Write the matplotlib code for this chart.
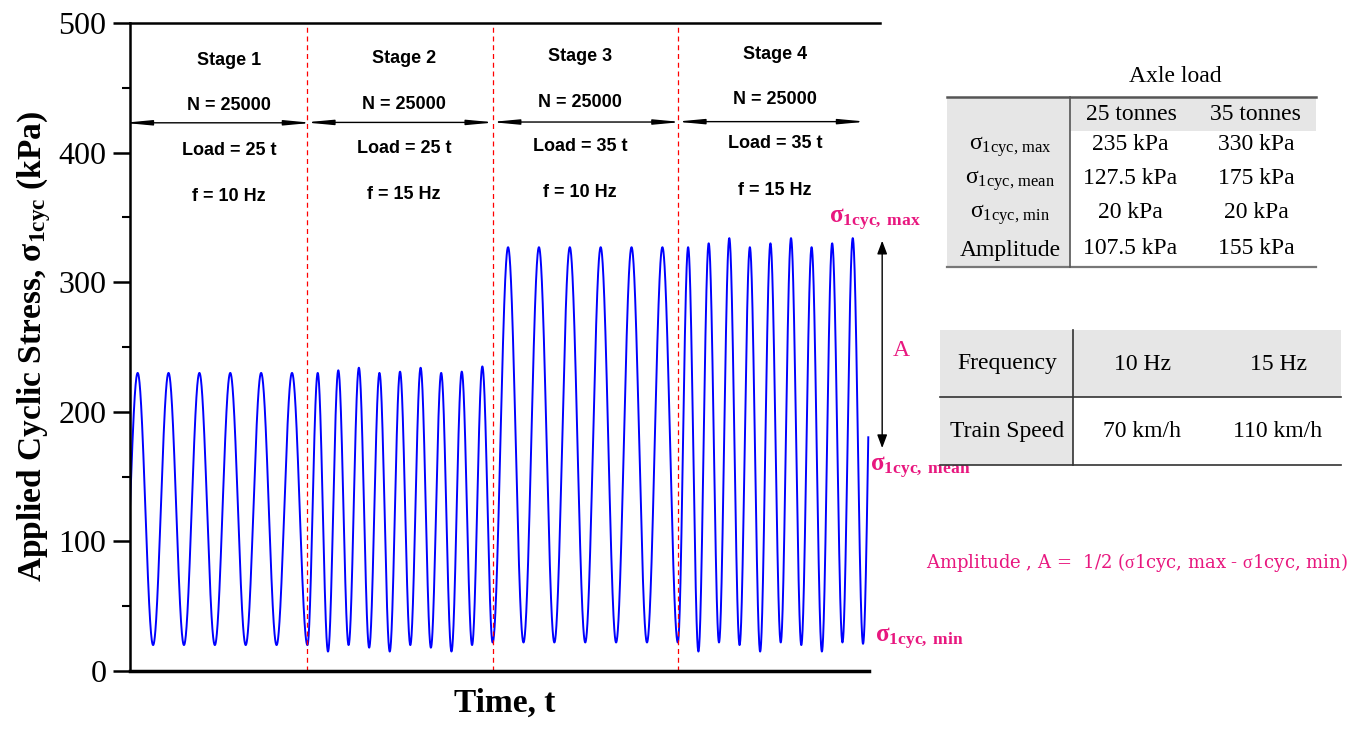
import numpy as np
import matplotlib
matplotlib.use("Agg")
import matplotlib.pyplot as plt
from matplotlib.patches import Rectangle
from matplotlib.lines import Line2D

plt.rcParams["font.family"] = ["Liberation Serif", "DejaVu Serif"]
plt.rcParams["mathtext.fontset"] = "custom"
plt.rcParams["mathtext.rm"] = "Liberation Serif"
plt.rcParams["mathtext.it"] = "Liberation Serif:italic"
plt.rcParams["mathtext.bf"] = "Liberation Serif:bold"

# ---- data (time in ms, stress in kPa) ----
stage_names = ["Stage 1", "Stage 2", "Stage 3", "Stage 4"]
stage_cycles = ["N = 25000", "N = 25000", "N = 25000", "N = 25000"]
stage_loads = ["Load = 25 t", "Load = 25 t", "Load = 35 t", "Load = 35 t"]
stage_freqs = ["f = 10 Hz", "f = 15 Hz", "f = 10 Hz", "f = 15 Hz"]
stage_hz = [10, 15, 10, 15]
stage_start = [-25, 575, 1175, 1775]   # first trough of each stage
stage_bounds = [575, 1175, 1775]
peaks_1 = [230, 230, 230, 230, 230, 230]
troughs_1 = [20, 20, 20, 20, 20, 20]
peaks_2 = [230, 232, 234, 230, 231, 234, 230, 231, 235]
troughs_2 = [15, 20, 18, 15, 20, 18, 15, 20, 22]
peaks_3 = [327, 327, 327, 327, 327, 327]
troughs_3 = [22, 22, 22, 22, 22, 22]
peaks_4 = [327, 330, 334, 327, 330, 334, 327, 330, 334]
troughs_4 = [15, 22, 20, 15, 22, 20, 15, 22, 21]
t_end = 2392

tbl1_cols = ["25 tonnes", "35 tonnes"]
tbl1_rows = [r"$\mathrm{\sigma}_{\mathrm{1cyc,\,max}}$", r"$\mathrm{\sigma}_{\mathrm{1cyc,\,mean}}$",
             r"$\mathrm{\sigma}_{\mathrm{1cyc,\,min}}$", "Amplitude"]
tbl1_25 = ["235 kPa", "127.5 kPa", "20 kPa", "107.5 kPa"]
tbl1_35 = ["330 kPa", "175 kPa", "20 kPa", "155 kPa"]
tbl2_rows = ["Frequency", "Train Speed"]
tbl2_a = ["10 Hz", "70 km/h"]
tbl2_b = ["15 Hz", "110 km/h"]

PINK = "#e8177f"

# ---- build waveform from extrema ----
knots_t, knots_v = [stage_start[0]], [troughs_1[0]]
for t0, hz, pk, tr in zip(stage_start, stage_hz,
                          [peaks_1, peaks_2, peaks_3, peaks_4],
                          [troughs_1, troughs_2, troughs_3, troughs_4]):
    T = 1000.0 / hz
    for k, (p, q) in enumerate(zip(pk, tr)):
        knots_t += [t0 + (k + 0.5) * T, t0 + (k + 1) * T]
        knots_v += [p, q]
knots_t.append(knots_t[-1] + 1000.0 / 15 / 2)
knots_v.append(330)
knots_t, knots_v = np.array(knots_t), np.array(knots_v)

t = np.linspace(0, t_end, 6000)
idx = np.clip(np.searchsorted(knots_t, t) - 1, 0, len(knots_t) - 2)
u = (t - knots_t[idx]) / (knots_t[idx + 1] - knots_t[idx])
y = knots_v[idx] + (knots_v[idx + 1] - knots_v[idx]) * (1 - np.cos(np.pi * u)) / 2

# ---- figure ----
fig = plt.figure(figsize=(13.65, 7.33), dpi=100)
ax = fig.add_axes([0.0952, 0.0846, 0.5495, 0.884])
ax.plot(t, y, color="#0000ff", lw=1.4)
for b in stage_bounds:
    ax.axvline(b, color="red", ls=(0, (4, 3)), lw=0.9)

ax.set_xlim(0, 2430)
ax.set_ylim(0, 500)
ax.set_yticks(np.arange(0, 501, 100))
ax.set_yticks(np.arange(50, 500, 100), minor=True)
ax.set_xticks([])
ax.tick_params(axis="y", which="major", length=12, width=1.8, labelsize=23, pad=5)
ax.tick_params(axis="y", which="minor", length=6, width=1.5)
ax.spines["right"].set_visible(False)
for s in ["left", "top"]:
    ax.spines[s].set_linewidth(1.8)
ax.spines["bottom"].set_linewidth(2.5)
ax.spines["bottom"].set_bounds(0, 2395)
ax.set_ylabel(r"Applied Cyclic Stress, $\mathbf{\sigma_{1cyc}}$ (kPa)",
              fontsize=24, fontweight="bold", labelpad=4)
ax.set_xlabel("Time, t", fontsize=24, fontweight="bold", labelpad=12)

# stage annotations
text_x = [321, 888, 1458, 2090]
text_dy = [0, 1.5, 3, 5]
arrow_span = [(-20, 590), (568, 1182), (1170, 1787), (1770, 2385)]
for i in range(4):
    kw = dict(ha="center", va="center", fontsize=13, fontweight="bold",
              family=["Liberation Sans", "DejaVu Sans"])
    ax.text(text_x[i], 471 + text_dy[i], stage_names[i], **kw)
    ax.text(text_x[i], 436 + text_dy[i], stage_cycles[i], **kw)
    ax.text(text_x[i], 402 + text_dy[i], stage_loads[i], **kw)
    ax.text(text_x[i], 366 + text_dy[i], stage_freqs[i], **kw)
    ya = 423 + 0.3 * i
    ax.annotate("", xy=(arrow_span[i][1], ya), xytext=(arrow_span[i][0], ya),
                annotation_clip=False,
                arrowprops=dict(arrowstyle="<|-|>,head_length=1.6,head_width=0.15",
                                color="black", lw=1.0, shrinkA=0, shrinkB=0))

# amplitude markers
ax.annotate("", xy=(2437, 332), xytext=(2437, 172), annotation_clip=False,
            arrowprops=dict(arrowstyle="<|-|>,head_length=0.8,head_width=0.3",
                            color="black", lw=1.0, shrinkA=0, shrinkB=0))
ax.text(2500, 247, "A", color=PINK, fontsize=17, ha="center", va="center", clip_on=False)
ax.text(2265, 348, r"$\mathbf{\sigma_{1cyc,\ max}}$", color=PINK, fontsize=18,
        ha="left", va="center", clip_on=False)
ax.text(2398, 157, r"$\mathbf{\sigma_{1cyc,\ mean}}$", color=PINK, fontsize=18,
        ha="left", va="center", clip_on=False)
ax.text(2413, 25, r"$\mathbf{\sigma_{1cyc,\ min}}$", color=PINK, fontsize=18,
        ha="left", va="center", clip_on=False)

fig.text(926 / 1365, 1 - 562 / 733,
         r"Amplitude , A =  1/2 ($\mathrm{\sigma}$1cyc, max - $\mathrm{\sigma}$1cyc, min)",
         color=PINK, fontsize=13, ha="left", va="center",
         family=["DejaVu Serif"])


# ---- tables (pixel layout) ----
def px(x, y):
    return x / 1365, 1 - y / 733


def box(x0, y0, x1, y1, color):
    fig.patches.append(Rectangle(px(x0, y1), (x1 - x0) / 1365, (y1 - y0) / 733,
                                 transform=fig.transFigure, facecolor=color,
                                 edgecolor="none", zorder=0))


def hline(x0, x1, yy, lw, color):
    fig.lines.append(Line2D([x0 / 1365, x1 / 1365], [1 - yy / 733] * 2,
                            transform=fig.transFigure, color=color, lw=lw))


def vline(xx, y0, y1, lw, color):
    fig.lines.append(Line2D([xx / 1365] * 2, [1 - y0 / 733, 1 - y1 / 733],
                            transform=fig.transFigure, color=color, lw=lw))


GRAY = "#e6e6e6"
# table 1
fig.text(*px(1175, 77), "Axle load", fontsize=17, ha="center", va="center")
box(947, 97, 1316, 131, GRAY)
box(947, 131, 1070, 267, GRAY)
hline(947, 1316, 97, 1.8, "#555555")
hline(947, 1316, 267, 1.6, "#777777")
vline(1070, 97, 267, 1.2, "#555555")
fig.text(*px(1131, 114), tbl1_cols[0], fontsize=17, ha="center", va="center")
fig.text(*px(1255, 114), tbl1_cols[1], fontsize=17, ha="center", va="center")
row_y = [147, 181, 215, 250]
for r, yy in enumerate(row_y):
    fig.text(*px(1010, yy), tbl1_rows[r], fontsize=17, ha="center", va="center")
    fig.text(*px(1130, yy - 2), tbl1_25[r], fontsize=17, ha="center", va="center")
    fig.text(*px(1256, yy - 2), tbl1_35[r], fontsize=17, ha="center", va="center")

# table 2
box(940, 330, 1341, 397, GRAY)
box(940, 397, 1073, 465, GRAY)
hline(940, 1341, 397, 1.2, "#333333")
hline(940, 1341, 465, 1.2, "#333333")
vline(1073, 330, 465, 1.2, "#333333")
for r, yy in enumerate([364, 432]):
    fig.text(*px(1007, yy), tbl2_rows[r], fontsize=17, ha="center", va="center")
    fig.text(*px(1142, yy), tbl2_a[r], fontsize=17, ha="center", va="center")
    fig.text(*px(1278, yy), tbl2_b[r], fontsize=17, ha="center", va="center")

fig.savefig("out.png", dpi=100)
